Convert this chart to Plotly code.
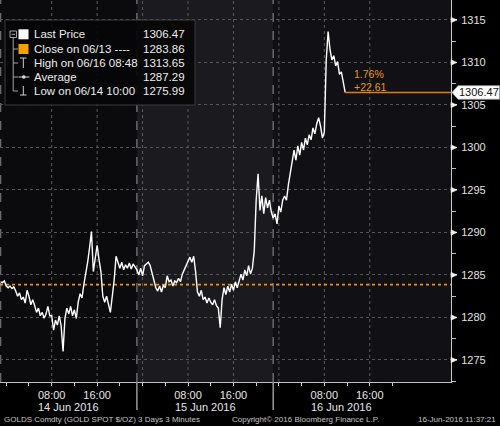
import plotly.graph_objects as go
import pandas as pd

# ---------------- data ----------------
start_time = "2016-06-13 23:00"
sample_freq = "20min"
prices = [
    1284.2, 1284.1, 1284.3, 1283.7, 1283.5, 1283.7, 1283.4, 1283.6, 1283.1, 1282.5,
    1282.9, 1282.1, 1282.4, 1281.7, 1283.2, 1282.5, 1281.5, 1282.1, 1281.4, 1280.6,
    1281.1, 1280.2, 1280.6, 1279.9, 1280.4, 1281.3, 1280.2, 1280.2, 1278.5, 1279.7,
    1279.1, 1280.2, 1279.0, 1275.99, 1279.9, 1281.1, 1280.4, 1281.3, 1280.2, 1280.9,
    1279.9, 1281.8, 1282.8, 1282.3, 1283.9, 1285.1, 1286.5, 1288.2, 1290.1, 1285.4,
    1287.2, 1288.5, 1286.8, 1285.4, 1282.5, 1281.8, 1282.5, 1281.6, 1280.6, 1282.5,
    1284.4, 1287.2, 1286.5, 1285.8, 1286.5, 1285.6, 1286.2, 1285.8, 1286.4, 1285.7,
    1286.3, 1285.9, 1285.6, 1285.0, 1285.8, 1284.9, 1286.1, 1286.3, 1286.5, 1286.1,
    1285.1, 1284.4, 1283.5, 1283.1, 1283.7, 1283.0, 1283.8, 1283.5, 1284.9, 1284.2,
    1284.4, 1283.7, 1284.3, 1284.1, 1284.6, 1284.2, 1285.1, 1285.6, 1286.1, 1286.5,
    1287.1, 1286.5, 1287.2, 1285.4, 1283.0, 1282.5, 1283.2, 1282.1, 1282.4, 1281.7,
    1282.3, 1281.8, 1281.5, 1282.1, 1281.4, 1281.1, 1278.8, 1282.1, 1283.5, 1282.7,
    1283.7, 1283.0, 1283.9, 1283.2, 1284.2, 1283.5, 1284.4, 1285.1, 1284.4, 1285.6,
    1284.9, 1286.1, 1285.1, 1285.8, 1287.9, 1293.8, 1296.9, 1292.6, 1294.3, 1292.2,
    1294.1, 1292.9, 1293.8, 1292.4, 1291.7, 1292.2, 1291.0, 1293.1, 1292.4, 1293.8,
    1294.3, 1293.8, 1295.6, 1297.1, 1298.3, 1299.7, 1298.5, 1300.2, 1299.1, 1300.6,
    1299.7, 1301.1, 1300.3, 1301.5, 1300.9, 1302.3, 1301.6, 1302.8, 1303.5, 1302.5,
    1301.1, 1301.8, 1310.3, 1313.65, 1311.5, 1310.3, 1310.8, 1309.6, 1310.1, 1308.6,
    1308.9, 1307.6, 1306.47,
]

legend_labels = ["Last Price", "Close on 06/13 ----", "High on 06/16 08:48",
                 "Average", "Low on 06/14 10:00"]
legend_values = ["1306.47", "1283.86", "1313.65", "1287.29", "1275.99"]
last_price = 1306.47
prev_close = 1283.86
change_pct = "1.76%"
change_abs = "+22.61"

y_ticks = [1275, 1280, 1285, 1290, 1295, 1300, 1305, 1310, 1315]
x_tick_times = ["2016-06-14 00:00", "2016-06-14 04:00", "2016-06-14 08:00", "2016-06-14 12:00",
                "2016-06-14 16:00", "2016-06-14 20:00", "2016-06-15 00:00", "2016-06-15 04:00",
                "2016-06-15 08:00", "2016-06-15 12:00", "2016-06-15 16:00", "2016-06-15 20:00",
                "2016-06-16 00:00", "2016-06-16 04:00", "2016-06-16 08:00", "2016-06-16 12:00",
                "2016-06-16 16:00", "2016-06-16 20:00"]
x_tick_text = ["", "", "08:00", "", "16:00", "", "", "", "08:00", "", "16:00", "",
               "", "", "08:00", "", "16:00", ""]
grid_times = ["2016-06-14 08:00", "2016-06-14 16:00", "2016-06-15 00:00", "2016-06-15 08:00",
              "2016-06-15 16:00", "2016-06-16 00:00", "2016-06-16 08:00", "2016-06-16 16:00"]
day_labels = ["14 Jun 2016", "15 Jun 2016", "16 Jun 2016"]
day_label_times = ["2016-06-14 11:00", "2016-06-15 11:00", "2016-06-16 11:00"]
session_starts = ["2016-06-13 23:00", "2016-06-14 23:00", "2016-06-15 23:00"]
x_range = ["2016-06-13 22:54", "2016-06-17 06:18"]
y_range = [1272.41, 1317.35]

footer_left = "GOLDS Comdty (GOLD SPOT $/OZ) 3 Days 3 Minutes"
footer_mid = "Copyright\u00a9 2016 Bloomberg Finance L.P."
footer_right = "16-Jun-2016 11:37:21"

times = pd.date_range(start_time, periods=len(prices), freq=sample_freq)

# ---------------- helpers (pixel -> paper) ----------------
PW, PH = 451.0, 382.0


def px(x):
    return x / PW


def py(y):
    return 1 - y / PH


FONT = "Liberation Sans, Arial, sans-serif"
ORANGE = "#e8941e"
ORANGE_LINE = "#d9800f"

fig = go.Figure()
fig.add_trace(go.Scatter(x=times, y=prices, mode="lines",
                         line=dict(color="#ffffff", width=1.4),
                         hoverinfo="skip", showlegend=False))

shapes = []
# session shading
shapes.append(dict(type="rect", xref="x", yref="paper", x0=session_starts[1], x1=session_starts[2],
                   y0=0, y1=1, fillcolor="#1b1b1f", line=dict(width=0), layer="below"))
shapes.append(dict(type="rect", xref="x", yref="paper", x0=session_starts[2], x1=x_range[1],
                   y0=0, y1=1, fillcolor="#111115", line=dict(width=0), layer="below"))
# vertical dotted grid
for t in grid_times:
    shapes.append(dict(type="line", xref="x", yref="paper", x0=t, x1=t, y0=0, y1=1,
                       line=dict(color="#5c5c5c", width=1, dash="dot"), layer="between"))
# session separators
for t in session_starts:
    shapes.append(dict(type="line", xref="x", yref="paper", x0=t, x1=t, y0=0, y1=1,
                       line=dict(color="#6a6a6e", width=1.5, dash="dash"), layer="between"))
for t in session_starts[1:]:
    shapes.append(dict(type="line", xref="x", yref="paper", x0=t, x1=t, y0=0, y1=py(410),
                       line=dict(color="#9a9a9a", width=1.5), layer="above"))
# previous close dotted line
shapes.append(dict(type="line", xref="paper", yref="y", x0=0, x1=1, y0=prev_close, y1=prev_close,
                   line=dict(color=ORANGE, width=1.6, dash="dot"), layer="between"))
# last price line
shapes.append(dict(type="line", xref="x", yref="y", x0=times[-1], x1=x_range[1],
                   y0=last_price, y1=last_price,
                   line=dict(color=ORANGE_LINE, width=1.5), layer="above"))
# y tick triangles
for v in y_ticks:
    shapes.append(dict(type="path", xref="paper", yref="y",
                       path=f"M 1,{v + 0.32} L {1 + 6 / PW},{v} L 1,{v - 0.32} Z",
                       fillcolor="#f0f0f0", line=dict(color="#f0f0f0", width=0.5), layer="above"))
# last price label box
hh = 0.8
x_a, x_b, x_c = 1 + 1 / PW, 1 + 7 / PW, 1 + 48.5 / PW
shapes.append(dict(type="path", xref="paper", yref="y",
                   path=(f"M {x_a},{last_price} L {x_b},{last_price + hh} L {x_c},{last_price + hh} "
                         f"L {x_c},{last_price - hh} L {x_b},{last_price - hh} Z"),
                   fillcolor="#ffffff", line=dict(color="#9a9a9a", width=0.8), layer="above"))

# legend box
shapes.append(dict(type="rect", xref="paper", yref="paper", x0=px(5), x1=px(195), y0=py(20), y1=py(105),
                   fillcolor="rgba(6,6,8,0.92)", line=dict(color="#3a3a3e", width=1), layer="above"))
row_y = [34.3, 49.0, 63.0, 77.0, 91.0]
tree = "#a0a0a0"
# collapse box
shapes.append(dict(type="rect", xref="paper", yref="paper", x0=px(10), x1=px(16.5), y0=py(31), y1=py(37.5),
                   fillcolor="rgba(0,0,0,0)", line=dict(color=tree, width=1), layer="above"))
shapes.append(dict(type="line", xref="paper", yref="paper", x0=px(11.5), x1=px(15), y0=py(34.3), y1=py(34.3),
                   line=dict(color=tree, width=1), layer="above"))
shapes.append(dict(type="line", xref="paper", yref="paper", x0=px(13.2), x1=px(13.2), y0=py(37.5), y1=py(row_y[4]),
                   line=dict(color=tree, width=1), layer="above"))
for ry in row_y[1:]:
    shapes.append(dict(type="line", xref="paper", yref="paper", x0=px(13.2), x1=px(18), y0=py(ry), y1=py(ry),
                       line=dict(color=tree, width=1), layer="above"))
# white / orange squares
shapes.append(dict(type="rect", xref="paper", yref="paper", x0=px(18.5), x1=px(28.5),
                   y0=py(row_y[0] - 5), y1=py(row_y[0] + 5), fillcolor="#ffffff",
                   line=dict(width=0), layer="above"))
shapes.append(dict(type="rect", xref="paper", yref="paper", x0=px(18.5), x1=px(28.5),
                   y0=py(row_y[1] - 5), y1=py(row_y[1] + 5), fillcolor="#f5a000",
                   line=dict(width=0), layer="above"))
# high icon (T)
shapes.append(dict(type="line", xref="paper", yref="paper", x0=px(20), x1=px(26.5), y0=py(row_y[2] - 5),
                   y1=py(row_y[2] - 5), line=dict(color="#cfcfcf", width=1), layer="above"))
shapes.append(dict(type="line", xref="paper", yref="paper", x0=px(23.3), x1=px(23.3), y0=py(row_y[2] - 5),
                   y1=py(row_y[2] + 5), line=dict(color="#cfcfcf", width=1), layer="above"))
# average icon
shapes.append(dict(type="line", xref="paper", yref="paper", x0=px(18.5), x1=px(29.5), y0=py(row_y[3]),
                   y1=py(row_y[3]), line=dict(color="#cfcfcf", width=1), layer="above"))
shapes.append(dict(type="circle", xref="paper", yref="paper", x0=px(22), x1=px(25.5), y0=py(row_y[3] - 1.7),
                   y1=py(row_y[3] + 1.7), fillcolor="#e0e0e0", line=dict(width=0), layer="above"))
# low icon
shapes.append(dict(type="line", xref="paper", yref="paper", x0=px(23.3), x1=px(23.3), y0=py(row_y[4] - 5),
                   y1=py(row_y[4] + 4), line=dict(color="#cfcfcf", width=1), layer="above"))
shapes.append(dict(type="line", xref="paper", yref="paper", x0=px(20), x1=px(26.5), y0=py(row_y[4] + 4),
                   y1=py(row_y[4] + 4), line=dict(color="#cfcfcf", width=1), layer="above"))

annotations = []
for lab, val, ry in zip(legend_labels, legend_values, row_y):
    annotations.append(dict(xref="paper", yref="paper", x=px(32), y=py(ry), text=lab, showarrow=False,
                            xanchor="left", yanchor="middle",
                            font=dict(family=FONT, size=11.5, color="#ececec")))
    annotations.append(dict(xref="paper", yref="paper", x=px(187), y=py(ry), text=val, showarrow=False,
                            xanchor="right", yanchor="middle",
                            font=dict(family=FONT, size=11.5, color="#ececec")))
# change annotations
annotations.append(dict(xref="paper", yref="paper", x=px(352), y=py(74), text=change_pct, showarrow=False,
                        xanchor="left", yanchor="middle", font=dict(family=FONT, size=10.5, color=ORANGE)))
annotations.append(dict(xref="paper", yref="paper", x=px(352), y=py(86.5), text=change_abs, showarrow=False,
                        xanchor="left", yanchor="middle", font=dict(family=FONT, size=10.5, color=ORANGE)))
# last price label text
annotations.append(dict(xref="paper", yref="y", x=1 + 28 / PW, y=last_price, text=f"{last_price:.2f}",
                        showarrow=False, xanchor="center", yanchor="middle",
                        font=dict(family=FONT, size=11, color="#111111")))
# day labels
for lab, t in zip(day_labels, day_label_times):
    annotations.append(dict(xref="x", yref="paper", x=t, y=py(407), text=lab, showarrow=False,
                            xanchor="center", yanchor="middle",
                            font=dict(family=FONT, size=11, color="#e6e6e6")))
# footer
annotations.append(dict(xref="paper", yref="paper", x=px(2), y=py(419.5), text=footer_left, showarrow=False,
                        xanchor="left", yanchor="middle", font=dict(family=FONT, size=8, color="#c4c4c4")))
annotations.append(dict(xref="paper", yref="paper", x=px(230), y=py(419.5), text=footer_mid, showarrow=False,
                        xanchor="left", yanchor="middle", font=dict(family=FONT, size=8, color="#c4c4c4")))
annotations.append(dict(xref="paper", yref="paper", x=px(498), y=py(419.5), text=footer_right,
                        showarrow=False, xanchor="right", yanchor="middle",
                        font=dict(family=FONT, size=8, color="#c4c4c4")))

fig.update_layout(
    width=500, height=426,
    margin=dict(l=0, r=49, t=0, b=44, pad=0, autoexpand=False),
    paper_bgcolor="#000000",
    plot_bgcolor="#0b0b0e",
    showlegend=False,
    shapes=shapes,
    annotations=annotations,
    xaxis=dict(type="date", range=x_range, tickmode="array", tickvals=x_tick_times, ticktext=x_tick_text,
               ticks="outside", ticklen=3, tickcolor="#c8c8c8", tickwidth=1, automargin=False,
               showline=True, linecolor="#c0c0c0", linewidth=1, showgrid=False, zeroline=False,
               tickfont=dict(family=FONT, size=11, color="#e6e6e6"), ticklabelstandoff=0),
    yaxis=dict(side="right", range=y_range, tickmode="array", tickvals=y_ticks,
               ticktext=[str(v) for v in y_ticks], automargin=False,
               ticks="outside", ticklen=5, tickcolor="#d0d0d0", tickwidth=1,
               minor=dict(tickmode="linear", tick0=1272.5, dtick=2.5, ticks="outside", ticklen=4,
                          tickcolor="#c0c0c0", showgrid=False),
               showline=True, linecolor="#c8c8c8", linewidth=1,
               showgrid=True, gridcolor="#555558", gridwidth=1, griddash="dot", zeroline=False,
               tickfont=dict(family=FONT, size=11, color="#e0e0e0"), ticklabelstandoff=2),
)

fig.write_html("out.html", config={"displayModeBar": False},
               post_script="document.body.style.margin='0';document.body.style.background='#000';")
